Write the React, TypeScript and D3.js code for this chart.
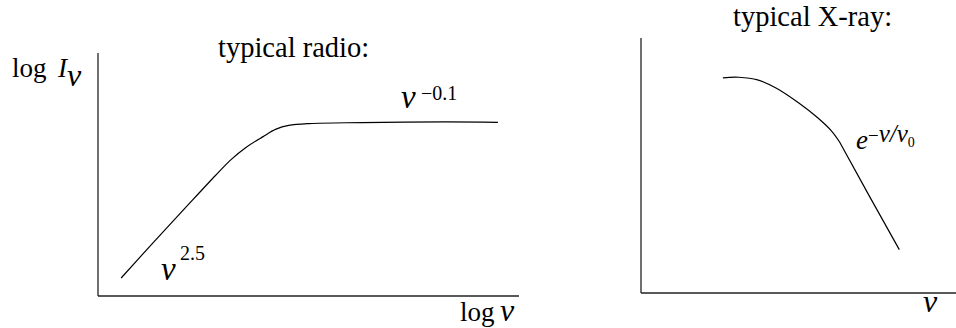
import React from "react";
import * as d3 from "d3";

const W = 956;
const H = 328;

// Radio spectrum sketch (arbitrary log units, 0..100 on both axes)
const radioX = [5.5, 12.9, 20.4, 27.9, 31.6, 35.3, 39.1, 42.3, 45.3, 50.2, 62.7, 82.6, 95.0];
const radioY = [7.7, 22.4, 37.0, 51.5, 58.3, 63.7, 68.0, 71.3, 72.9, 73.7, 74.1, 74.4, 74.2];

// X-ray spectrum sketch (arbitrary linear units, 0..100 on both axes)
const xrayX = [26.0, 31.0, 37.0, 43.0, 50.0, 56.0, 60.5, 63.0, 72.5, 82.0];
const xrayY = [84.4, 84.6, 83.6, 80.3, 74.6, 68.8, 63.5, 59.3, 38.0, 17.0];

const FONT = '"Liberation Serif", "Times New Roman", "DejaVu Serif", serif';

export default function App() {
  // left panel scales
  const xL = d3.scaleLinear().domain([0, 100]).range([98, 519]);
  const yL = d3.scaleLinear().domain([0, 100]).range([296, 62]);
  // right panel scales
  const xR = d3.scaleLinear().domain([0, 100]).range([641, 956]);
  const yR = d3.scaleLinear().domain([0, 100]).range([293, 38]);

  const smooth = (xs: number[], xs2: (v: number) => number, ys2: (v: number) => number) =>
    d3
      .line<number>()
      .x((_, i) => xs2(xs[i]))
      .y((d) => ys2(d))
      .curve(d3.curveCatmullRom.alpha(0.5));

  const radioPath = smooth(radioX, xL, yL)(radioY) || "";

  // X-ray: rounded turnover, then a straight exponential tail
  const split = 7;
  const xrayHead = smooth(xrayX.slice(0, split + 1), xR, yR)(xrayY.slice(0, split + 1)) || "";
  const tailX = xrayX.slice(split);
  const xrayTail =
    d3
      .line<number>()
      .x((_, i) => xR(tailX[i]))
      .y((d) => yR(d))(xrayY.slice(split)) || "";

  const txt = { fontFamily: FONT } as React.CSSProperties;
  const it = { fontFamily: FONT, fontStyle: "italic" } as React.CSSProperties;

  return (
    <svg
      width={W}
      height={H}
      style={{ position: "absolute", left: 0, top: 0, background: "#fff" }}
    >
      <rect x={0} y={0} width={W} height={H} fill="#fff" />
      {/* left panel axes */}
      <line x1={xL(0)} y1={yL(100) - 9} x2={xL(0)} y2={yL(0)} stroke="#222" strokeWidth={1.3} />
      <line x1={xL(0)} y1={yL(0)} x2={xL(100)} y2={yL(0)} stroke="#222" strokeWidth={1.3} />
      <path d={radioPath} fill="none" stroke="#000" strokeWidth={1.2} />

      <text x={218} y={57} fontSize={28.5} style={txt}>typical radio:</text>
      <text x={12} y={77} fontSize={27} style={txt}>log</text>
      <text x={58} y={77} fontSize={27} style={it}>I</text>
      <text x={67} y={86} fontSize={32} style={it}>ν</text>
      <text x={401} y={108} fontSize={33} style={it}>ν</text>
      <text x={421} y={100} fontSize={20} style={txt}>−0.1</text>
      <text x={161} y={280} fontSize={33} style={it}>ν</text>
      <text x={180} y={260} fontSize={20} style={txt}>2.5</text>
      <text x={460} y={321} fontSize={27} style={txt}>log</text>
      <text x={500} y={321} fontSize={32} style={it}>ν</text>

      {/* right panel axes */}
      <line x1={xR(0)} y1={yR(100)} x2={xR(0)} y2={yR(0)} stroke="#222" strokeWidth={1.3} />
      <line x1={xR(0)} y1={yR(0)} x2={xR(100)} y2={yR(0)} stroke="#222" strokeWidth={1.3} />
      <path d={xrayHead + xrayTail} fill="none" stroke="#000" strokeWidth={1.2} />

      <text x={733} y={26} fontSize={28.5} style={txt}>typical X-ray:</text>
      <text x={856} y={149} style={txt}>
        <tspan fontSize={27} style={it}>e</tspan>
        <tspan fontSize={19} dy={-7}>−</tspan>
        <tspan fontSize={25} style={it}>ν/ν</tspan>
        <tspan fontSize={14} dy={5}>0</tspan>
      </text>
      <text x={923} y={312} fontSize={32} style={it}>ν</text>
    </svg>
  );
}
